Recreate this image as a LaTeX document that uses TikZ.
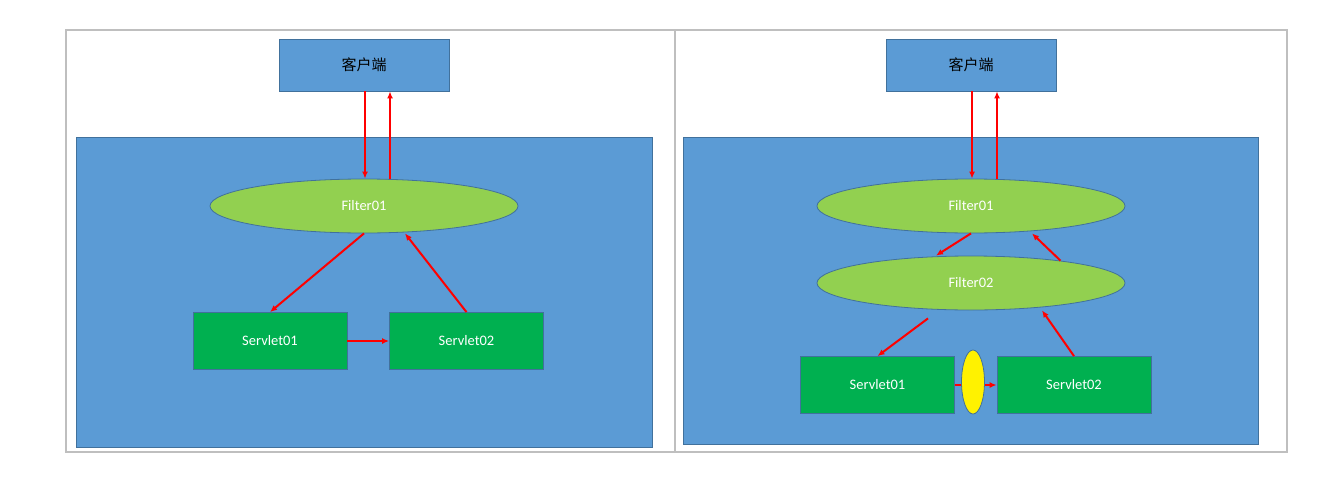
\documentclass[tikz,border=0pt]{standalone}
\usepackage{fontspec}
\setmainfont{Carlito}
\newfontfamily\cjk{Noto Sans CJK SC}
\usetikzlibrary{arrows.meta,shapes.geometric}
\definecolor{boxblue}{HTML}{5B9BD5}
\definecolor{edgeblue}{HTML}{41719C}
\definecolor{filtergreen}{HTML}{92D050}
\definecolor{servgreen}{HTML}{00B050}
\definecolor{framegray}{HTML}{BFBFBF}

\begin{document}
\begin{tikzpicture}[x=1pt,y=-1pt,
  client/.style={draw=edgeblue,line width=.8pt,fill=boxblue,minimum width=170pt,minimum height=52pt,inner sep=0pt,font=\fontsize{15}{15}\cjk},
  filter/.style={ellipse,draw=edgeblue,line width=.8pt,fill=filtergreen,minimum width=308pt,minimum height=54pt,inner sep=0pt,text=white,font=\fontsize{14.5}{14.5}\selectfont},
  servlet/.style={draw=edgeblue,line width=.8pt,fill=servgreen,minimum width=154pt,minimum height=57pt,inner sep=0pt,text=white,font=\fontsize{14.5}{14.5}\selectfont},
  flow/.style={red,line width=2pt,-{Latex[length=7pt,width=6pt]}}]
\useasboundingbox [fill=white] (0,0) rectangle (1320,490);
% panels
\draw [framegray, line width=1.2pt] (66,30) rectangle (1287,452) (675,30) -- (675,452);
\draw [edgeblue, fill=boxblue, line width=.8pt] (76,137) rectangle (652,447) (683,137) rectangle (1258,444);
\foreach \p/\x in {l/364,r/971} {
  \node [client] (c\p) at (\x,65) {客户端};
  \node [filter] (fa\p) at (\x,206) {Filter01};
  \draw [flow] ([xshift=1pt]c\p.south) -- ([xshift=1pt]fa\p.north);
  \draw [flow] ([xshift=26pt]fa\p.north) -- ([xshift=26pt]c\p.south);
}
% one filter
\node [servlet] (sal) at (270,341) {Servlet01};
\node [servlet] (sbl) at (466.5,341) {Servlet02};
\draw [flow] (fal.south) -- (sal.north);
\draw [flow] (sbl.north) -- ([xshift=41pt]fal.south);
\draw [flow] (sal.east) -- (sbl.west);
% two filters
\node [filter] (fbr) at (971,283) {Filter02};
\node [servlet] (sar) at (877.5,385) {Servlet01};
\node [servlet] (sbr) at (1074,385) {Servlet02};
\draw [flow] (far.south) -- ([xshift=-35pt]fbr.north);
\draw [flow] (fbr.14) -- ([xshift=61pt]far.south);
\draw [flow] ([xshift=-43pt,yshift=-8pt]fbr.south) -- (sar.north);
\draw [flow] (sbr.north) -- ([xshift=71pt]fbr.south);
\draw [flow] (sar.east) -- (sbr.west);
\node [ellipse, draw=edgeblue, line width=.8pt, fill=yellow, minimum width=23pt, minimum height=64pt, inner sep=0pt] (yr) at (973,382) {};
\end{tikzpicture}
\end{document}
